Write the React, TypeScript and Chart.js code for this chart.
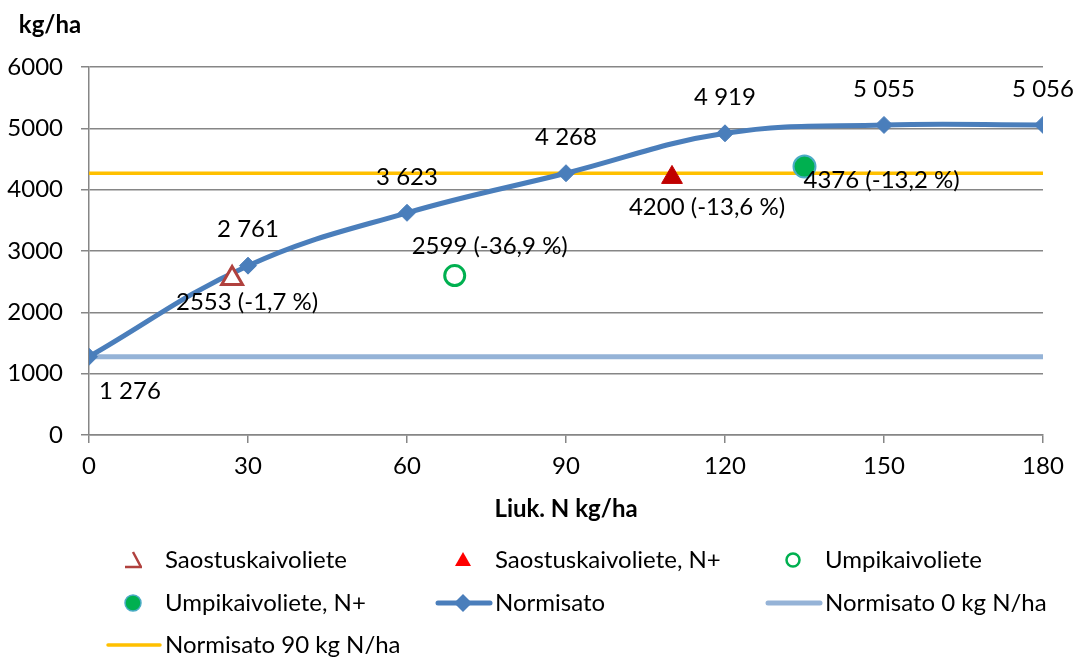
import React, { useEffect, useRef } from 'react';
import { Chart, registerables } from 'chart.js';

Chart.register(...registerables);

// ---- Data ----
const nRates = [0, 30, 60, 90, 120, 150, 180];
const normisatoYield = [1276, 2761, 3623, 4268, 4919, 5055, 5056];
const normisato0Level = 1276;
const normisato90Level = 4268;

const saostusX = [27];
const saostusY = [2553];
const saostusPct = [-1.7];

const saostusNX = [110];
const saostusNY = [4200];
const saostusNPct = [-13.6];

const umpiX = [69];
const umpiY = [2599];
const umpiPct = [-36.9];

const umpiNX = [135];
const umpiNY = [4376];
const umpiNPct = [-13.2];

const xTicks = [0, 30, 60, 90, 120, 150, 180];
const yTicks = [0, 1000, 2000, 3000, 4000, 5000, 6000];

const yTitle = 'kg/ha';
const xTitle = 'Liuk. N kg/ha';

const FONT = "Lato, 'Noto Sans', sans-serif";
const FS = 24;

const fmtThousands = (v: number) => {
  const s = String(Math.round(v));
  return s.replace(/\B(?=(\d{3})+(?!\d))/g, ' ');
};
const fmtPct = (v: number, p: number) => `${v} (${p.toFixed(1).replace('.', ',')} %)`;

const C_NORM = '#4A7EBB';
const C_NORM0 = '#95B3D7';
const C_NORM90 = '#FFC000';
const C_SAOS = '#B0413E';
const C_SAOSN = '#C00000';
const C_UMPI = '#00B050';
const C_UMPIN_BORDER = '#4BACC6';

const labelPlugin = {
  id: 'customLabels',
  afterDraw(chart: any) {
    const ctx = chart.ctx;
    const xs = chart.scales.x;
    const ys = chart.scales.y;
    ctx.save();
    ctx.fillStyle = '#000';
    ctx.textBaseline = 'middle';
    ctx.font = `${FS}px ${FONT}`;

    // Normisato labels
    normisatoYield.forEach((v, i) => {
      const px = xs.getPixelForValue(nRates[i]);
      const py = ys.getPixelForValue(v);
      const txt = fmtThousands(v);
      if (i === 0) {
        ctx.textAlign = 'left';
        ctx.fillText(txt, px + 10, py + 35);
      } else {
        ctx.textAlign = 'center';
        ctx.fillText(txt, px, py - 36);
      }
    });

    // Scatter labels: [xs, ys, pct, dx, dy, align]
    const sc: [number[], number[], number[], number, number, string][] = [
      [saostusX, saostusY, saostusPct, 15, 24, 'center'],
      [umpiX, umpiY, umpiPct, 35, -29, 'center'],
      [saostusNX, saostusNY, saostusNPct, 35, 30, 'center'],
      [umpiNX, umpiNY, umpiNPct, -1, 14, 'left'],
    ];
    sc.forEach(([ax, ay, ap, dx, dy, al]) => {
      ctx.textAlign = al;
      ax.forEach((xv, i) => {
        const px = xs.getPixelForValue(xv);
        const py = ys.getPixelForValue(ay[i]);
        ctx.fillText(fmtPct(ay[i], ap[i]), px + dx, py + dy);
      });
    });

    // Axis titles
    ctx.font = `bold ${FS}px ${FONT}`;
    ctx.textAlign = 'center';
    ctx.fillText(yTitle, 50, 25);
    ctx.fillText(xTitle, (chart.chartArea.left + chart.chartArea.right) / 2, 509);

    // Legend
    ctx.font = `${FS}px ${FONT}`;
    ctx.textAlign = 'left';
    const cols = [133, 463, 793];
    const rows = [560, 603, 645];
    const items = [
      { text: 'Saostuskaivoliete', kind: 'triOpen' },
      { text: 'Saostuskaivoliete, N+', kind: 'triFill' },
      { text: 'Umpikaivoliete', kind: 'circOpen' },
      { text: 'Umpikaivoliete, N+', kind: 'circFill' },
      { text: 'Normisato', kind: 'lineDiamond' },
      { text: 'Normisato 0 kg N/ha', kind: 'line0' },
      { text: 'Normisato 90 kg N/ha', kind: 'line90' },
    ];
    items.forEach((it, k) => {
      const cx = cols[k % 3];
      const cy = rows[Math.floor(k / 3)];
      ctx.save();
      if (it.kind === 'triOpen') {
        ctx.strokeStyle = C_SAOS;
        ctx.lineWidth = 2.5;
        ctx.beginPath();
        ctx.moveTo(cx, cy - 8);
        ctx.lineTo(cx + 8, cy + 7);
        ctx.moveTo(cx - 8, cy + 7);
        ctx.lineTo(cx + 9, cy + 7);
        ctx.stroke();
      } else if (it.kind === 'triFill') {
        ctx.fillStyle = '#FF0000';
        ctx.beginPath();
        ctx.moveTo(cx, cy - 8);
        ctx.lineTo(cx + 8, cy + 6);
        ctx.lineTo(cx - 8, cy + 6);
        ctx.closePath();
        ctx.fill();
      } else if (it.kind === 'circOpen') {
        ctx.strokeStyle = C_UMPI;
        ctx.lineWidth = 2.5;
        ctx.beginPath();
        ctx.arc(cx, cy, 6.5, 0, Math.PI * 2);
        ctx.stroke();
      } else if (it.kind === 'circFill') {
        ctx.fillStyle = C_UMPI;
        ctx.strokeStyle = C_UMPIN_BORDER;
        ctx.lineWidth = 1.5;
        ctx.beginPath();
        ctx.arc(cx, cy, 8, 0, Math.PI * 2);
        ctx.fill();
        ctx.stroke();
      } else {
        const col = it.kind === 'lineDiamond' ? C_NORM : it.kind === 'line0' ? C_NORM0 : C_NORM90;
        ctx.strokeStyle = col;
        ctx.lineCap = 'round';
        ctx.lineWidth = it.kind === 'line90' ? 3.5 : 5;
        ctx.beginPath();
        ctx.moveTo(cx - 25, cy);
        ctx.lineTo(cx + 27, cy);
        ctx.stroke();
        if (it.kind === 'lineDiamond') {
          ctx.fillStyle = C_NORM;
          ctx.beginPath();
          ctx.moveTo(cx, cy - 9);
          ctx.lineTo(cx + 9, cy);
          ctx.lineTo(cx, cy + 9);
          ctx.lineTo(cx - 9, cy);
          ctx.closePath();
          ctx.fill();
        }
      }
      ctx.restore();
      ctx.fillStyle = '#000';
      ctx.fillText(it.text, cx + 32, cy);
    });
    ctx.restore();
  },
};

export default function App() {
  const ref = useRef<HTMLCanvasElement | null>(null);
  useEffect(() => {
    document.body.style.margin = '0';
    if (!ref.current) return;
    const toXY = (xa: number[], ya: number[]) => xa.map((x, i) => ({ x, y: ya[i] }));
    const chart = new Chart(ref.current, {
      type: 'scatter',
      data: {
        datasets: [
          {
            label: 'Saostuskaivoliete',
            data: toXY(saostusX, saostusY),
            pointStyle: 'triangle',
            pointRadius: 12,
            pointBackgroundColor: '#FFFFFF',
            pointBorderColor: C_SAOS,
            pointBorderWidth: 3,
            showLine: false,
            order: 0,
          },
          {
            label: 'Saostuskaivoliete, N+',
            data: toXY(saostusNX, saostusNY),
            pointStyle: 'triangle',
            pointRadius: 12,
            pointBackgroundColor: C_SAOSN,
            pointBorderColor: C_SAOSN,
            pointBorderWidth: 1,
            showLine: false,
            order: 0,
          },
          {
            label: 'Umpikaivoliete',
            data: toXY(umpiX, umpiY),
            pointStyle: 'circle',
            pointRadius: 10,
            pointBackgroundColor: '#FFFFFF',
            pointBorderColor: C_UMPI,
            pointBorderWidth: 3,
            showLine: false,
            order: 0,
          },
          {
            label: 'Umpikaivoliete, N+',
            data: toXY(umpiNX, umpiNY),
            pointStyle: 'circle',
            pointRadius: 11,
            pointBackgroundColor: C_UMPI,
            pointBorderColor: C_UMPIN_BORDER,
            pointBorderWidth: 2,
            showLine: false,
            order: 0,
          },
          {
            label: 'Normisato',
            data: toXY(nRates, normisatoYield),
            showLine: true,
            borderColor: C_NORM,
            borderWidth: 5,
            tension: 0.4,
            pointStyle: 'rectRot',
            pointRadius: 8.5,
            pointBackgroundColor: C_NORM,
            pointBorderColor: C_NORM,
            pointBorderWidth: 1,
            order: 1,
          },
          {
            label: 'Normisato 0 kg N/ha',
            data: [
              { x: xTicks[0], y: normisato0Level },
              { x: xTicks[xTicks.length - 1], y: normisato0Level },
            ],
            showLine: true,
            borderColor: C_NORM0,
            borderWidth: 5,
            pointRadius: 0,
            order: 2,
          },
          {
            label: 'Normisato 90 kg N/ha',
            data: [
              { x: xTicks[0], y: normisato90Level },
              { x: xTicks[xTicks.length - 1], y: normisato90Level },
            ],
            showLine: true,
            borderColor: C_NORM90,
            borderWidth: 3.5,
            pointRadius: 0,
            order: 3,
          },
        ],
      },
      options: {
        animation: false,
        responsive: false,
        devicePixelRatio: 1,
        layout: { padding: { left: 0, top: 67, right: 31, bottom: 0 } },
        plugins: {
          legend: { display: false },
          tooltip: { enabled: false },
        },
        scales: {
          x: {
            type: 'linear',
            min: xTicks[0],
            max: xTicks[xTicks.length - 1],
            afterBuildTicks: (s: any) => {
              s.ticks = xTicks.map((v) => ({ value: v }));
            },
            afterFit: (s: any) => {
              s.height = 222;
            },
            grid: {
              drawOnChartArea: false,
              drawTicks: true,
              tickLength: 8,
              color: '#868686',
              lineWidth: 1.5,
            },
            border: { display: true, color: '#868686', width: 1.5 },
            ticks: {
              padding: 9,
              color: '#000',
              font: { family: FONT, size: FS },
              maxRotation: 0,
              callback: (v: any) => String(v),
            },
          },
          y: {
            type: 'linear',
            min: yTicks[0],
            max: yTicks[yTicks.length - 1],
            afterBuildTicks: (s: any) => {
              s.ticks = yTicks.map((v) => ({ value: v }));
            },
            afterFit: (s: any) => {
              s.width = 89;
            },
            grid: {
              drawOnChartArea: true,
              drawTicks: true,
              tickLength: 8,
              color: '#868686',
              lineWidth: 1.5,
            },
            border: { display: true, color: '#868686', width: 1.5 },
            ticks: {
              padding: 18,
              color: '#000',
              font: { family: FONT, size: FS },
              callback: (v: any) => String(v),
            },
          },
        },
      },
      plugins: [labelPlugin],
    } as any);
    return () => chart.destroy();
  }, []);
  return (
    <div style={{ position: 'absolute', left: 0, top: 0, width: 1074, height: 657, background: '#fff' }}>
      <canvas ref={ref} width={1074} height={657} style={{ display: 'block' }} />
    </div>
  );
}
